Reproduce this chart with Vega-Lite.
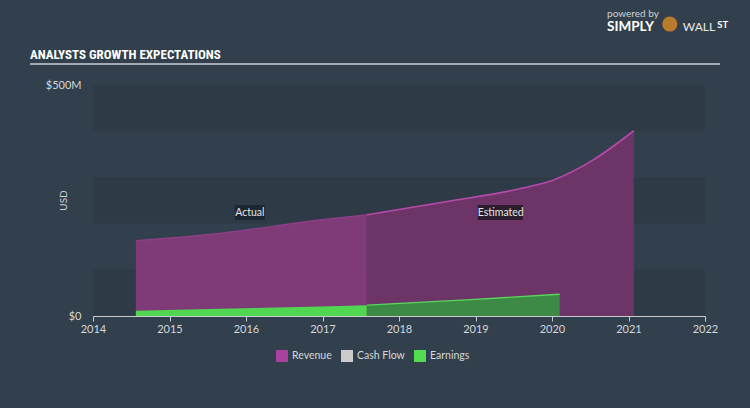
{
  "$schema": "https://vega.github.io/schema/vega-lite/v6.json",
  "width": 612,
  "height": 231,
  "autosize": {"type": "none"},
  "padding": {"left": 93, "top": 85, "right": 45, "bottom": 92},
  "background": "#323f4c",
  "config": {
    "view": {"stroke": null},
    "font": "Lato",
    "axis": {"labelFont": "Lato", "titleFont": "Lato"},
    "legend": {"labelFont": "Lato"}
  },
  "datasets": {
    "bands": [
      {"lo": 0, "hi": 100},
      {"lo": 200, "hi": 300},
      {"lo": 400, "hi": 500}
    ],
    "series": [
      {"key": "Revenue", "series": "Revenue", "phase": "Actual", "year": 2014.56, "value": 163},
      {"key": "Revenue", "series": "Revenue", "phase": "Actual", "year": 2015.66, "value": 179},
      {"key": "Revenue", "series": "Revenue", "phase": "Actual", "year": 2016.97, "value": 208},
      {"key": "Revenue", "series": "Revenue", "phase": "Actual", "year": 2017.58, "value": 219},
      {"key": "Revenue est", "series": "Revenue", "phase": "Estimated", "year": 2017.58, "value": 219},
      {"key": "Revenue est", "series": "Revenue", "phase": "Estimated", "year": 2018.67, "value": 249},
      {"key": "Revenue est", "series": "Revenue", "phase": "Estimated", "year": 2019.62, "value": 277},
      {"key": "Revenue est", "series": "Revenue", "phase": "Estimated", "year": 2020.01, "value": 294},
      {"key": "Revenue est", "series": "Revenue", "phase": "Estimated", "year": 2020.54, "value": 338},
      {"key": "Revenue est", "series": "Revenue", "phase": "Estimated", "year": 2021.07, "value": 401},
      {"key": "Earnings", "series": "Earnings", "phase": "Actual", "year": 2014.56, "value": 11.5},
      {"key": "Earnings", "series": "Earnings", "phase": "Actual", "year": 2015.66, "value": 15.5},
      {"key": "Earnings", "series": "Earnings", "phase": "Actual", "year": 2016.97, "value": 20.5},
      {"key": "Earnings", "series": "Earnings", "phase": "Actual", "year": 2017.58, "value": 23.5},
      {"key": "Earnings est", "series": "Earnings", "phase": "Estimated", "year": 2017.58, "value": 23.5},
      {"key": "Earnings est", "series": "Earnings", "phase": "Estimated", "year": 2019.0, "value": 36},
      {"key": "Earnings est", "series": "Earnings", "phase": "Estimated", "year": 2020.1, "value": 47}
    ],
    "legendItems": [
      {"series": "Revenue"},
      {"series": "Cash Flow"},
      {"series": "Earnings"}
    ],
    "notes": [
      {"label": "Actual", "x": 2016.05, "x0": 2015.856, "x1": 2016.248, "y": 224, "y0": 208, "y1": 240, "kind": "a"},
      {"label": "Estimated", "x": 2019.33, "x0": 2019.03, "x1": 2019.62, "y": 224, "y0": 208, "y1": 240, "kind": "e"}
    ],
    "one": [{}]
  },
  "layer": [
    {
      "data": {"name": "bands"},
      "mark": {"type": "rect", "fill": "#000000", "fillOpacity": 0.07},
      "encoding": {
        "y": {"field": "lo", "type": "quantitative"},
        "y2": {"field": "hi"}
      }
    },
    {
      "data": {"name": "series"},
      "transform": [{"filter": "datum.series === 'Revenue'"}],
      "mark": {"type": "area", "interpolate": "monotone"},
      "encoding": {
        "x": {"field": "year", "type": "quantitative"},
        "y": {"field": "value", "type": "quantitative", "stack": null},
        "detail": {"field": "key"},
        "fill": {
          "field": "key",
          "type": "nominal",
          "scale": {
            "domain": ["Revenue", "Earnings", "Revenue est", "Earnings est"],
            "range": ["#7f3a78", "#50d650", "#6d3567", "#3d8a46"]
          },
          "legend": null
        }
      }
    },
    {
      "data": {"name": "series"},
      "transform": [{"filter": "datum.key === 'Revenue est'"}],
      "mark": {"type": "line", "interpolate": "monotone", "color": "#b84aac", "strokeWidth": 1.6},
      "encoding": {
        "x": {"field": "year", "type": "quantitative"},
        "y": {"field": "value", "type": "quantitative"}
      }
    },
    {
      "data": {"name": "series"},
      "transform": [{"filter": "datum.key === 'Revenue'"}],
      "mark": {"type": "line", "interpolate": "monotone", "color": "#90408a", "strokeWidth": 1.2},
      "encoding": {
        "x": {"field": "year", "type": "quantitative"},
        "y": {"field": "value", "type": "quantitative"}
      }
    },
    {
      "data": {"name": "series"},
      "transform": [{"filter": "datum.series === 'Earnings'"}],
      "mark": {"type": "area"},
      "encoding": {
        "x": {"field": "year", "type": "quantitative"},
        "y": {"field": "value", "type": "quantitative", "stack": null},
        "detail": {"field": "key"},
        "fill": {"field": "key", "type": "nominal", "legend": null}
      }
    },
    {
      "data": {"name": "series"},
      "transform": [{"filter": "datum.key === 'Earnings est'"}],
      "mark": {"type": "line", "color": "#58d858", "strokeWidth": 1.4},
      "encoding": {
        "x": {"field": "year", "type": "quantitative"},
        "y": {"field": "value", "type": "quantitative"}
      }
    },
    {
      "data": {"name": "legendItems"},
      "mark": {"type": "point", "shape": "square", "filled": true, "size": 0, "opacity": 1},
      "encoding": {
        "x": {"datum": 2014},
        "y": {"datum": 0},
        "color": {
          "field": "series",
          "type": "nominal",
          "scale": {"domain": ["Revenue", "Cash Flow", "Earnings"], "range": ["#a8419f", "#cccccc", "#52dc52"]},
          "legend": {
            "title": null,
            "orient": "none",
            "direction": "horizontal",
            "legendX": 183,
            "legendY": 265,
            "symbolType": "square",
            "symbolSize": 144,
            "symbolStrokeWidth": 0,
            "labelColor": "#d4d7da",
            "labelFontSize": 10.5,
            "columnPadding": 9
          }
        }
      }
    },
    {
      "data": {"name": "notes"},
      "transform": [{"filter": "datum.kind === 'a'"}],
      "mark": {"type": "rect", "cornerRadius": 1, "fill": "#1c2731"},
      "encoding": {
        "x": {"field": "x0", "type": "quantitative"},
        "x2": {"field": "x1"},
        "y": {"field": "y0", "type": "quantitative"},
        "y2": {"field": "y1"}
      }
    },
    {
      "data": {"name": "notes"},
      "transform": [{"filter": "datum.kind === 'e'"}],
      "mark": {"type": "rect", "cornerRadius": 1, "fill": "#2b1d2e"},
      "encoding": {
        "x": {"field": "x0", "type": "quantitative"},
        "x2": {"field": "x1"},
        "y": {"field": "y0", "type": "quantitative"},
        "y2": {"field": "y1"}
      }
    },
    {
      "data": {"name": "notes"},
      "mark": {"type": "text", "color": "#e6e6e6", "fontSize": 10.5, "font": "Lato", "align": "center", "baseline": "middle"},
      "encoding": {
        "x": {"field": "x", "type": "quantitative"},
        "y": {"field": "y", "type": "quantitative"},
        "text": {"field": "label"}
      }
    },
    {
      "data": {"name": "one"},
      "mark": {"type": "text", "text": "ANALYSTS GROWTH EXPECTATIONS", "font": "Roboto Condensed, Liberation Sans Narrow, Arial Narrow, Roboto, sans-serif", "fontSize": 13, "fontWeight": "bold", "color": "#ffffff", "align": "left", "baseline": "alphabetic"},
      "encoding": {"x": {"datum": 2013.176}, "y": {"datum": 556}}
    },
    {
      "data": {"name": "one"},
      "mark": {"type": "rule", "color": "#c9ced3", "strokeWidth": 1.5},
      "encoding": {
        "x": {"datum": 2013.176},
        "x2": {"datum": 2022.196},
        "y": {"datum": 545.5}
      }
    },
    {
      "data": {"name": "one"},
      "mark": {"type": "text", "text": "powered by", "fontSize": 10, "color": "#cfd3d7", "align": "left", "baseline": "middle"},
      "encoding": {"x": {"datum": 2020.72}, "y": {"datum": 653.7}}
    },
    {
      "data": {"name": "one"},
      "mark": {"type": "text", "text": "SIMPLY", "fontSize": 13.5, "fontWeight": "bold", "color": "#ffffff", "align": "left", "baseline": "middle"},
      "encoding": {"x": {"datum": 2020.72}, "y": {"datum": 625.5}}
    },
    {
      "data": {"name": "one"},
      "mark": {"type": "point", "shape": "circle", "filled": true, "size": 230, "color": "#b97b2c", "opacity": 1},
      "encoding": {"x": {"datum": 2021.54}, "y": {"datum": 632}}
    },
    {
      "data": {"name": "one"},
      "mark": {"type": "text", "text": "WALL", "fontSize": 12, "color": "#e8e8e8", "align": "left", "baseline": "middle"},
      "encoding": {"x": {"datum": 2021.71}, "y": {"datum": 625.5}}
    },
    {
      "data": {"name": "one"},
      "mark": {"type": "text", "text": "ST", "fontSize": 9.5, "fontWeight": "bold", "color": "#ffffff", "align": "left", "baseline": "middle"},
      "encoding": {"x": {"datum": 2022.16}, "y": {"datum": 630}}
    }
  ],
  "encoding": {
    "x": {
      "type": "quantitative",
      "scale": {"domain": [2014, 2022], "nice": false, "zero": false},
      "axis": {
        "title": null,
        "values": [2014, 2015, 2016, 2017, 2018, 2019, 2020, 2021, 2022],
        "format": "d",
        "grid": false,
        "domainColor": "#c8ccd0",
        "tickColor": "#c8ccd0",
        "tickSize": 5,
        "labelColor": "#d4d7da",
        "labelFontSize": 11,
        "labelPadding": 2,
        "labelFlush": false
      }
    },
    "y": {
      "type": "quantitative",
      "scale": {"domain": [0, 500], "nice": false},
      "axis": {
        "title": "USD",
        "values": [0, 500],
        "labelExpr": "datum.value == 0 ? '$0' : '$' + datum.value + 'M'",
        "grid": false,
        "domain": false,
        "ticks": false,
        "labelColor": "#d4d7da",
        "labelFontSize": 11,
        "labelPadding": 12,
        "titleColor": "#cfd3d7",
        "titleFontSize": 10,
        "titleFontWeight": "normal",
        "titleX": -30,
        "titleY": 115,
        "titleAlign": "center",
        "titleBaseline": "middle",
        "titleAngle": -90
      }
    }
  }
}
